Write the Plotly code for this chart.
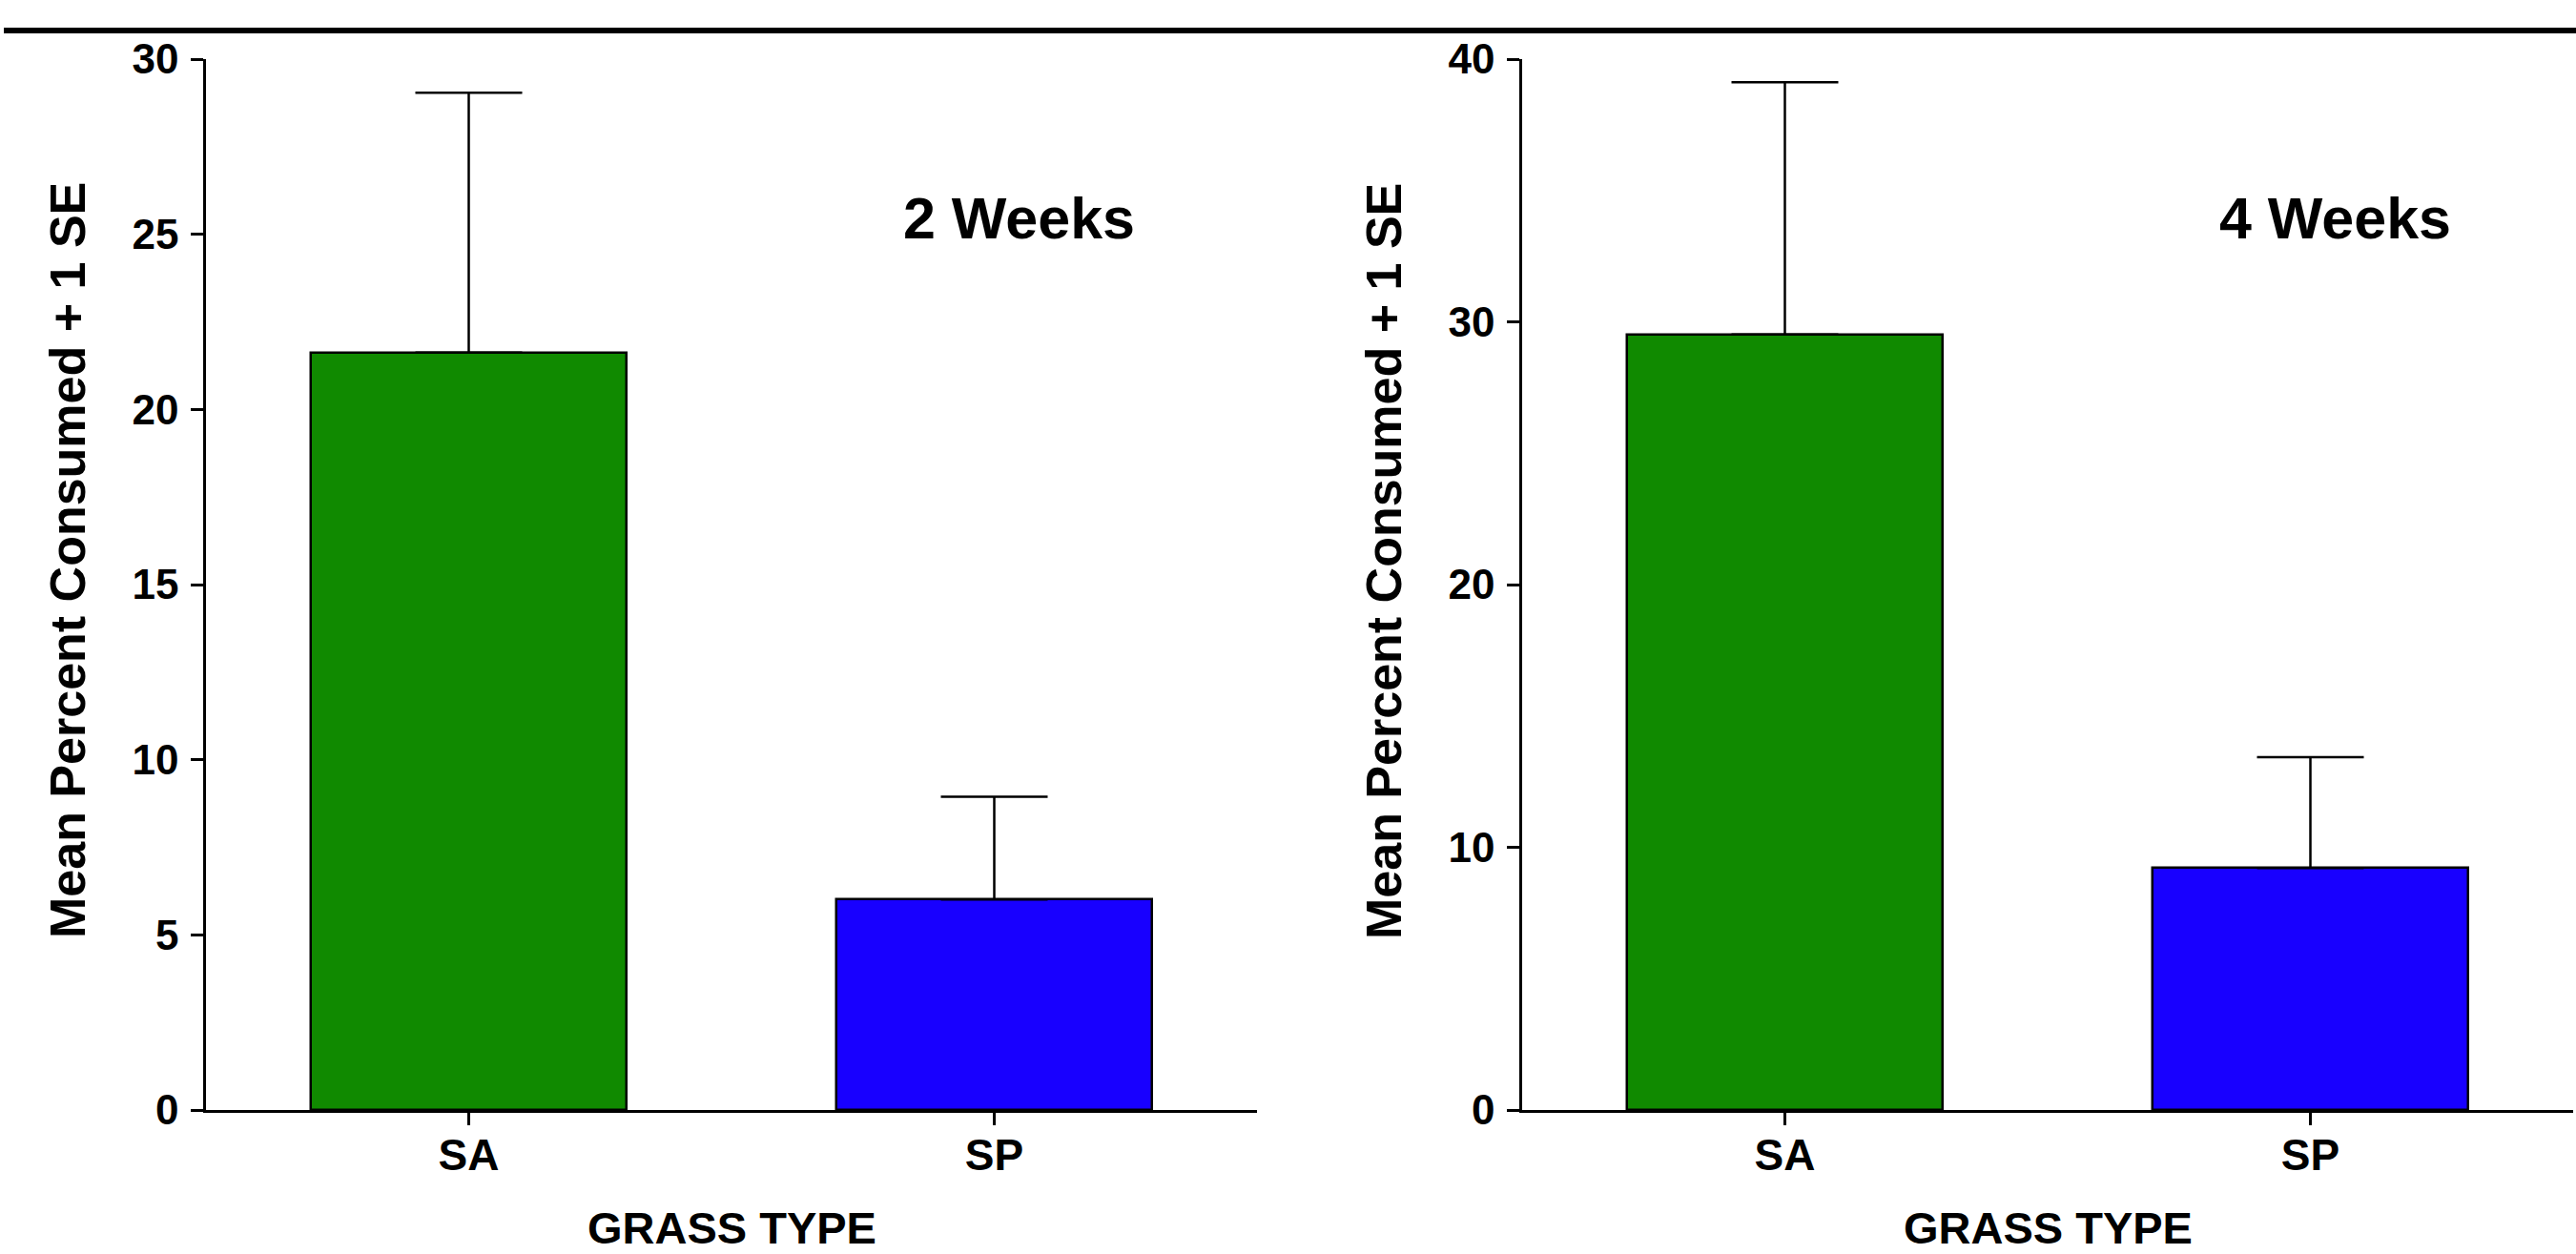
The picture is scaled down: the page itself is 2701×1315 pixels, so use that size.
import plotly.graph_objects as go

# ---- data ----
categories = ["SA", "SP"]
week2_means = [21.62, 6.01]
week2_se = [7.42, 2.93]
week4_means = [29.52, 9.21]
week4_se = [9.60, 4.22]
bar_colors = ["#108a00", "#1800ff"]
week2_ticks = [0, 5, 10, 15, 20, 25, 30]
week4_ticks = [0, 10, 20, 30, 40]
panel_labels = ["2 Weeks", "4 Weeks"]
y_title = "Mean Percent Consumed + 1 SE"
x_title = "GRASS TYPE"

W, H = 2701, 1315
FONT = "Arial, Liberation Sans, sans-serif"

def px_x(v):
    return v / W

def px_y(v):
    return (H - v) / H

fig = go.Figure()

for i, (means, se) in enumerate([(week2_means, week2_se), (week4_means, week4_se)]):
    suffix = "" if i == 0 else str(i + 1)
    fig.add_trace(go.Bar(
        x=categories, y=means, width=0.6,
        marker=dict(color=bar_colors, line=dict(color="black", width=2.5)),
        error_y=dict(type="data", array=se, arrayminus=[0] * len(se), symmetric=False,
                     color="black", thickness=2.5, width=56),
        xaxis="x" + suffix, yaxis="y" + suffix, showlegend=False,
    ))

ydom = [px_y(1164), px_y(62)]
xdoms = [[px_x(216), px_x(1318)], [px_x(1596), px_x(2698)]]
ranges = [[0, 30], [0, 40]]
ticks = [week2_ticks, week4_ticks]

axis_common = dict(showline=True, linecolor="black", linewidth=2.5, ticks="outside",
                   ticklen=13, tickwidth=2.5, tickcolor="black", showgrid=False,
                   zeroline=False, automargin=False)

layout = dict(
    width=W, height=H, margin=dict(l=0, r=0, t=0, b=0, pad=0, autoexpand=False),
    paper_bgcolor="white", plot_bgcolor="white",
    font=dict(family=FONT, color="black"),
    bargap=0,
)
for i in range(2):
    s = "" if i == 0 else str(i + 1)
    layout["xaxis" + s] = dict(axis_common, domain=xdoms[i], range=[-0.5, 1.5],
                                anchor="y" + s, type="category", ticklabelstandoff=-8,
                                tickfont=dict(size=46, family=FONT, weight="bold"))
    layout["yaxis" + s] = dict(axis_common, domain=ydom, range=ranges[i],
                                anchor="x" + s, tickvals=ticks[i], ticklabelstandoff=4,
                                tickfont=dict(size=44, family=FONT, weight="bold"))
fig.update_layout(**layout)

annotations = []
for i in range(2):
    x0, x1 = xdoms[i]
    axis_px = x0 * W
    annotations.append(dict(
        text=y_title, xref="paper", yref="paper",
        x=(axis_px - 145) / W, y=px_y(588), textangle=-90,
        showarrow=False, xanchor="center", yanchor="middle",
        font=dict(size=52, family=FONT, weight="bold", color="black")))
    annotations.append(dict(
        text=x_title, xref="paper", yref="paper",
        x=(x0 + x1) / 2, y=px_y(1287),
        showarrow=False, xanchor="center", yanchor="middle",
        font=dict(size=47, family=FONT, weight="bold", color="black")))
    annotations.append(dict(
        text=panel_labels[i], xref="paper", yref="paper",
        x=x0 + 0.774 * (x1 - x0), y=px_y(229),
        showarrow=False, xanchor="center", yanchor="middle",
        font=dict(size=61, family=FONT, weight="bold", color="black")))
fig.update_layout(annotations=annotations)

fig.add_shape(type="line", xref="paper", yref="paper",
              x0=px_x(4), x1=1, y0=px_y(32), y1=px_y(32),
              line=dict(color="black", width=6))

fig.write_html("out.html", config={"displayModeBar": False},
               post_script="document.body.style.margin='0';document.body.style.overflow='hidden';")
